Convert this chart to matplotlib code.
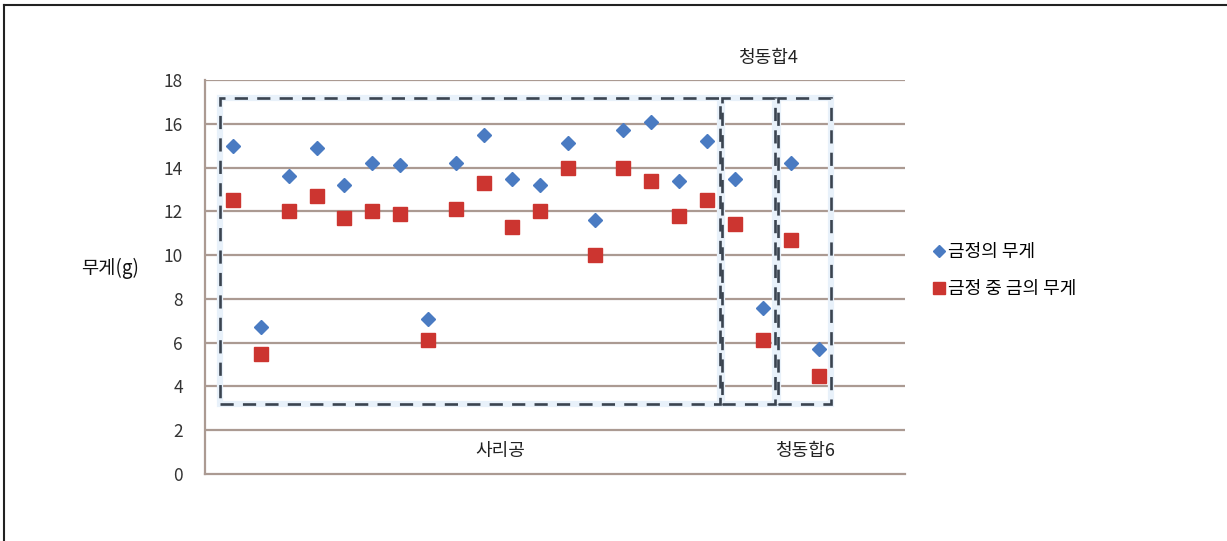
import matplotlib
matplotlib.use("Agg")
import matplotlib.pyplot as plt
from matplotlib.lines import Line2D
from matplotlib.patches import Rectangle

plt.rcParams['font.family'] = ['Noto Sans CJK KR', 'DejaVu Sans']

# ---- data ----
sample_index = list(range(1, 23))
ingot_weight = [15.0, 6.7, 13.6, 14.9, 13.2, 14.2, 14.1, 7.1, 14.2, 15.5, 13.5,
                13.2, 15.1, 11.6, 15.7, 16.1, 13.4, 15.2, 13.5, 7.6, 14.2, 5.7]
gold_weight = [12.5, 5.5, 12.0, 12.7, 11.7, 12.0, 11.9, 6.1, 12.1, 13.3, 11.3,
               12.0, 14.0, 10.0, 14.0, 13.4, 11.8, 12.5, 11.4, 6.1, 10.7, 4.5]
series_labels = ["금정의 무게", "금정 중 금의 무게"]
group_names = ["사리공", "청동합4", "청동합6"]
group_sizes = [18, 2, 2]
y_ticks = [0, 2, 4, 6, 8, 10, 12, 14, 16, 18]
y_label = "무게(g)"

# ---- styles ----
blue = "#4a7bc2"
red = "#cc3530"
grid_c = "#ab9a92"
box_c = "#3a4450"

fig = plt.figure(figsize=(12.27, 5.41), dpi=100)
fig.patch.set_facecolor("white")
W, H = 1227, 541
ax = fig.add_axes([205 / W, (H - 474) / H, 700 / W, 394 / H])
ax.set_xlim(0, 25.1)
ax.set_ylim(0, 18)

for y in y_ticks[1:]:
    ax.axhline(y, color=grid_c, lw=1.6, zorder=1)
for s in ["top", "right"]:
    ax.spines[s].set_visible(False)
for s in ["left", "bottom"]:
    ax.spines[s].set_color(grid_c)
    ax.spines[s].set_linewidth(1.6)

ax.set_yticks(y_ticks)
ax.set_xticks([])
ax.tick_params(axis="y", length=0, pad=16, labelsize=12.5, labelcolor="#333333")

# group boxes
start = 1
pad = 0.45
for name, n in zip(group_names, group_sizes):
    x0 = start - pad
    x1 = start + n - 1 + pad
    ax.add_patch(Rectangle((x0, 3.2), x1 - x0, 14.0, fill=False, ec="#e8f1fa",
                           lw=4.5, zorder=2))
    ax.add_patch(Rectangle((x0, 3.2), x1 - x0, 14.0, fill=False, ec=box_c,
                           lw=1.9, ls=(0, (5, 3.5)), zorder=3))
    start += n

ax.plot(sample_index, ingot_weight, ls="none", marker="D", ms=7, color=blue,
        mec=blue, zorder=5, clip_on=False)
ax.plot(sample_index, gold_weight, ls="none", marker="s", ms=10.5, color=red,
        mec=red, zorder=5, clip_on=False)

# group labels
ax.text(10.6, 1.05, group_names[0], ha="center", va="center", fontsize=13, color="#222222")
ax.text(21.5, 1.05, group_names[2], ha="center", va="center", fontsize=13, color="#222222")
ax.text(20.2, 19.0, group_names[1], ha="center", va="center", fontsize=13,
        color="#222222", clip_on=False)

fig.text(110 / W, 1 - 268 / H, y_label, ha="center", va="center", fontsize=13.5,
         color="#111111")

handles = [Line2D([], [], ls="none", marker="D", ms=6, color=blue),
           Line2D([], [], ls="none", marker="s", ms=9, color=red)]
fig.legend(handles, series_labels, loc="upper left",
           bbox_to_anchor=(934 / W, 1 - 243 / H), frameon=False, fontsize=13,
           handlelength=0.6, handletextpad=0.15, labelspacing=1.05,
           borderaxespad=0, borderpad=0)

# figure frame (top and left lines)
fig.add_artist(Line2D([4 / W, 4 / W], [0, 1 - 5 / H], color="#222222", lw=1.5,
                      transform=fig.transFigure))
fig.add_artist(Line2D([4 / W, 1], [1 - 5 / H, 1 - 5 / H], color="#222222", lw=1.5,
                      transform=fig.transFigure))

fig.savefig("out.png", dpi=100, facecolor="white")
